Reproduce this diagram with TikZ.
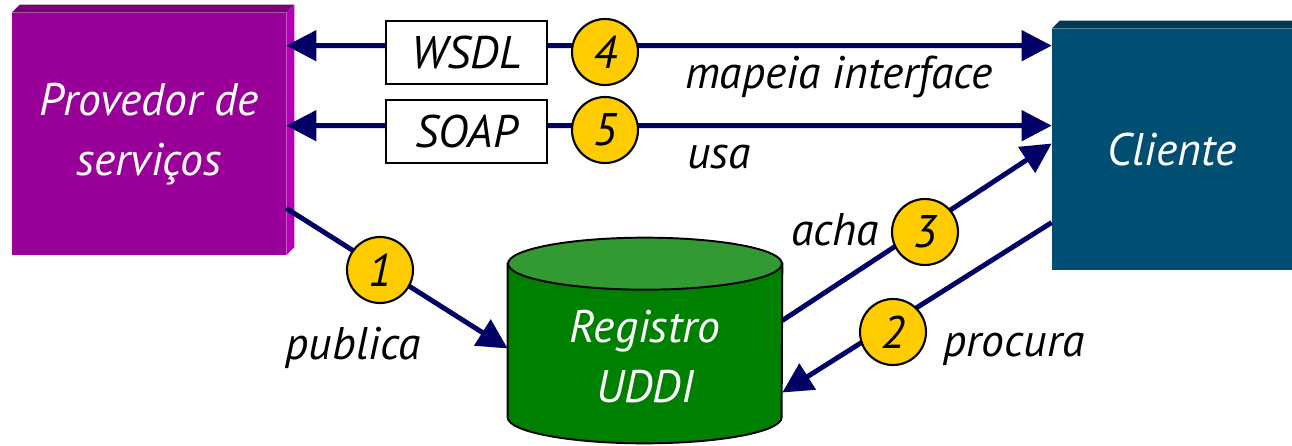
\documentclass[tikz,border=0pt]{standalone}
\usepackage{fontspec}
\setsansfont{PT Sans}
\usetikzlibrary{arrows.meta,calc}
\definecolor{provcol}{HTML}{990099}
\definecolor{provtop}{HTML}{770077}
\definecolor{provside}{HTML}{B400B4}
\definecolor{clicol}{HTML}{004F73}
\definecolor{clitop}{HTML}{003A56}
\definecolor{regcol}{HTML}{008000}
\definecolor{regtop}{HTML}{339933}
\definecolor{linecol}{HTML}{000066}
\definecolor{numcol}{HTML}{FFCC00}

\begin{document}
\begin{tikzpicture}[
        x=0.02cm, y=0.02cm,
        font=\sffamily\itshape\fontsize{26}{34}\selectfont
    ]
    \tikzset{
        boxnode/.style = {rectangle, align=center, text=white, inner sep=0pt},
        tagnode/.style = {rectangle, draw=black, line width=1.2pt, fill=white, minimum width=3.22cm, minimum height=1.26cm},
        numnode/.style = {circle, draw=black, line width=1.2pt, fill=numcol, minimum size=1.32cm, inner sep=0pt},
        lbl/.style = {text=black, inner sep=0pt},
        link/.style = {line width=2.8pt, draw=linecol, -{Triangle[length=0.6cm,width=0.6cm]}},
        linkb/.style = {line width=2.8pt, draw=linecol, {Triangle[length=0.6cm,width=0.6cm]}-{Triangle[length=0.6cm,width=0.6cm]}},
    }
    \useasboundingbox[fill=white] (0,0) rectangle (1292,-446);
    %
    \node[boxnode, fill=provcol, minimum width=5.48cm, minimum height=4.84cm] (prov) at (149,-134) {Provedor de\\servi\c{c}os};
    \fill[provtop] (prov.north west) -- ++(8,8) -- ($(prov.north east)+(8,8)$) -- (prov.north east) -- cycle;
    \fill[provside] (prov.north east) -- ++(8,8) -- ($(prov.south east)+(8,8)$) -- (prov.south east) -- cycle;
    \node[boxnode, fill=clicol, minimum width=4.8cm, minimum height=4.82cm] (cli) at (1172,-149.5) {Cliente};
    \fill[clitop] (cli.north west) -- ++(8,8) -- ($(cli.north east)+(0,8)$) -- (cli.north east) -- cycle;
    %
    \node[boxnode, minimum width=5.48cm, minimum height=3.06cm] (reg) at (645,-340.5) {};
    \filldraw[fill=regcol, draw=black, line width=1.1pt] (reg.north west) -- (reg.south west)
        arc[start angle=180, end angle=360, x radius=2.74cm, y radius=0.52cm] -- (reg.north east) -- cycle;
    \filldraw[fill=regtop, draw=black, line width=1.1pt] (reg.north) ellipse[x radius=2.74cm, y radius=0.52cm];
    \node[boxnode] at ($(reg.center)+(0,-16)$) {Registro\\UDDI};
    %
    \draw[linkb] ($(prov.north east)+(0,-33)$) -- ($(cli.north west)+(0,-17)$);
    \draw[linkb] ($(prov.north east)+(0,-113)$) -- ($(cli.north west)+(0,-97)$);
    \draw[link] ($(prov.south east)+(0,47)$) -- ($(reg.west)+(0,-8)$);
    \draw[link] ($(reg.east)+(0,20)$) -- ($(cli.west)+(0,6)$);
    \draw[link] ($(cli.west)+(0,-73)$) -- ($(reg.east)+(0,-52)$);
    %
    \node[tagnode] (wsdl) at (466.5,-52.5) {WSDL};
    \node[tagnode] (soap) at (466.5,-131.5) {SOAP};
    \node[numnode] (n4) at (605,-52) {4};
    \node[numnode] (n5) at (605,-130) {5};
    \node[numnode] (n1) at (380,-270) {1};
    \node[numnode] (n3) at (925,-232) {3};
    \node[numnode] (n2) at (893,-332) {2};
    %
    \node[lbl] (mapeia) at (839,-77) {mapeia interface};
    \node[lbl] (usa) at (719,-157) {usa};
    \node[lbl] (acha) at (835,-230) {acha};
    \node[lbl] (publica) at (353,-348) {publica};
    \node[lbl] (procura) at (1014,-349) {procura};
\end{tikzpicture}
\end{document}
